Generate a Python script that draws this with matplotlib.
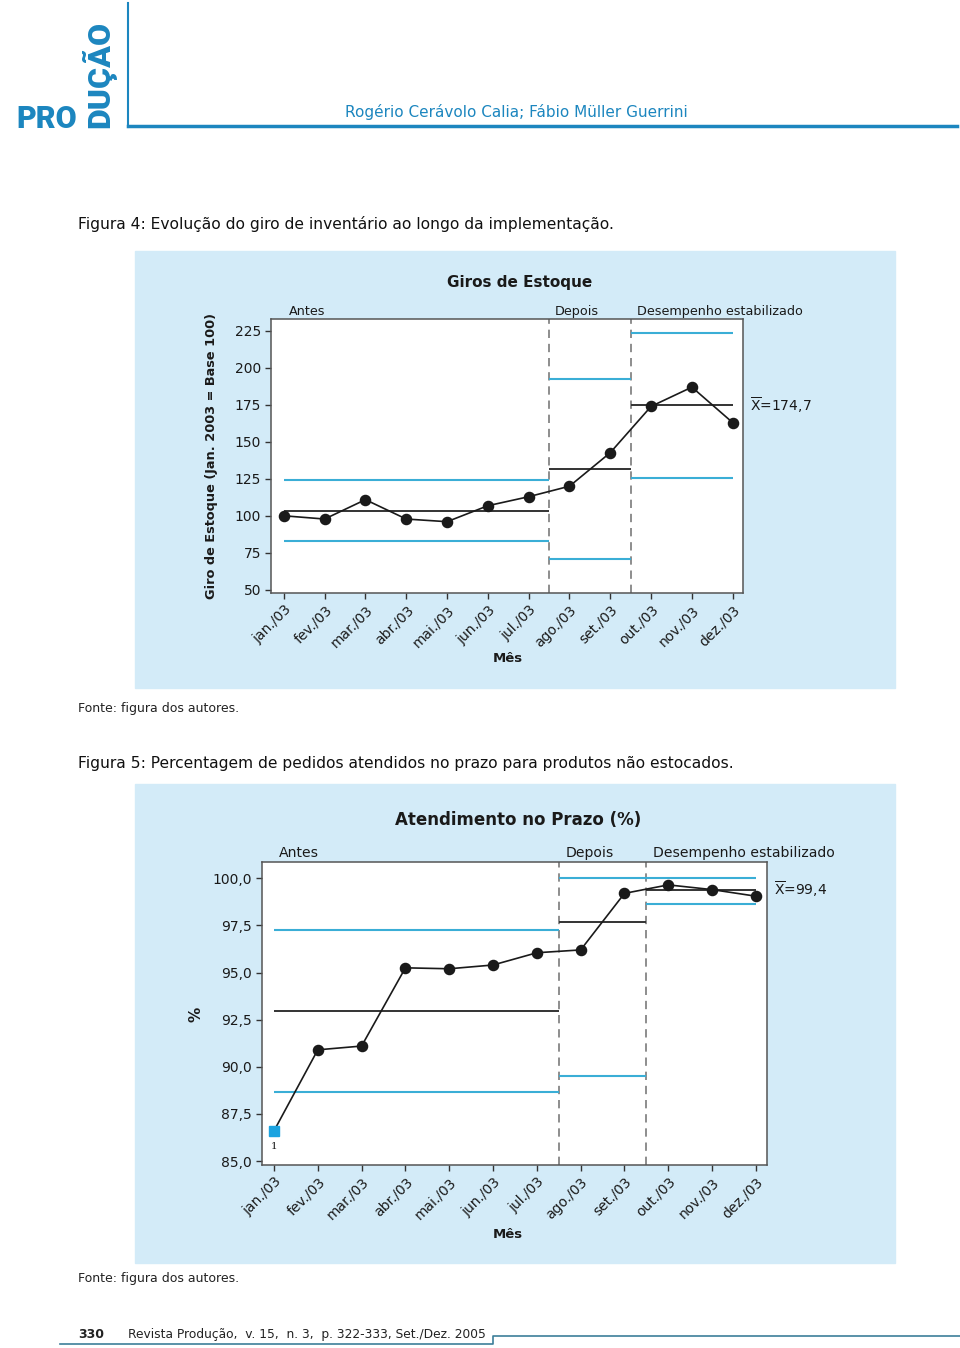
import matplotlib
matplotlib.use("Agg")
import matplotlib.pyplot as plt
from matplotlib.patches import Rectangle

plt.rcParams['font.family'] = ['DejaVu Sans']
plt.rcParams['mathtext.fontset'] = 'dejavusans'

# --- data ---
meses = ['jan./03', 'fev./03', 'mar./03', 'abr./03', 'mai./03', 'jun./03',
         'jul./03', 'ago./03', 'set./03', 'out./03', 'nov./03', 'dez./03']
etapas = ['Antes', 'Depois', 'Desempenho estabilizado']
etapa_inicio = [0, 7, 9]   # first month of each stage

# Figura 4 - giros de estoque (jan. 2003 = base 100)
giros = [100.0, 97.8, 110.9, 97.8, 96.0, 106.8, 112.9, 120.0, 142.7, 174.0, 187.0, 163.0]
giros_lsc = [124.4, 192.3, 223.9]
giros_media = [103.3, 131.4, 174.7]
giros_lic = [82.9, 70.8, 125.8]
giros_yticks = [50, 75, 100, 125, 150, 175, 200, 225]

# Figura 5 - atendimento no prazo (%)
prazo = [86.6, 90.9, 91.1, 95.25, 95.2, 95.4, 96.05, 96.2, 99.2, 99.65, 99.4, 99.05]
prazo_lsc = [97.27, 100.0, 100.0]
prazo_media = [92.97, 97.7, 99.4]
prazo_lic = [88.64, 89.52, 98.62]
prazo_fora = [0]   # points flagged by test 1
prazo_yticks = [85.0, 87.5, 90.0, 92.5, 95.0, 97.5, 100.0]

W, H = 960, 1348
AZUL = '#1c86bf'
FUNDO = '#d3ebf8'
CIANO = '#3aaed6'
ESCURO = '#1a1a1a'


def rect(l, t, r, b):
    return [l / W, 1 - b / H, (r - l) / W, (b - t) / H]


fig = plt.figure(figsize=(W / 100, H / 100), dpi=100)

# page layer in pixel coordinates
page = fig.add_axes([0, 0, 1, 1])
page.set_xlim(0, W)
page.set_ylim(H, 0)
page.axis('off')

# header
page.text(16, 128, 'PRO', family='Roboto', fontweight='heavy', fontsize=22,
          color=AZUL, ha='left', va='baseline')
page.text(116, 128, 'DUÇÃO', family='Roboto', fontweight='heavy', fontsize=23,
          color=AZUL, rotation=90, ha='right', va='bottom')
page.plot([128, 128], [3, 127], color=AZUL, lw=1.5)
page.plot([128, 957], [126, 126], color=AZUL, lw=2.5)
page.text(688, 117, 'Rogério Cerávolo Calia; Fábio Müller Guerrini', fontsize=11,
          color=AZUL, ha='right', va='baseline')

# captions
page.text(78, 229, 'Figura 4: Evolução do giro de inventário ao longo da implementação.',
          fontsize=11.2, color='#111111', ha='left', va='baseline')
page.text(78, 712, 'Fonte: figura dos autores.', fontsize=9, color='#222222',
          ha='left', va='baseline')
page.text(78, 768, 'Figura 5: Percentagem de pedidos atendidos no prazo para produtos não estocados.',
          fontsize=11.2, color='#111111', ha='left', va='baseline')
page.text(78, 1282, 'Fonte: figura dos autores.', fontsize=9, color='#222222',
          ha='left', va='baseline')

# footer
page.text(78, 1338, '330', fontsize=9, fontweight='bold', color='#222222', va='baseline')
page.text(128, 1338, 'Revista Produção,  v. 15,  n. 3,  p. 322-333, Set./Dez. 2005',
          fontsize=8.8, color='#222222', va='baseline')
page.plot([60, 493, 493, 960], [1344, 1344, 1336, 1336], color='#3d7f9a', lw=1.2)

# chart panels
page.add_patch(Rectangle((135, 251), 760, 437, color=FUNDO, zorder=0))
page.add_patch(Rectangle((135, 784), 760, 479, color=FUNDO, zorder=0))


def carta(ax, valores, lsc, media, lic, fmt, yticks, rotulo_media, fora=(), fs_etapa=9.2):
    n = len(valores)
    ini = [0] + [i - 0.5 for i in etapa_inicio[1:]]
    fim = ini[1:] + [n - 1]
    for k in range(len(etapas)):
        ax.hlines([lsc[k], lic[k]], ini[k], fim[k], color=CIANO, lw=1.5, zorder=2)
        ax.hlines(media[k], ini[k], fim[k], color='#333333', lw=1.4, zorder=2)
        ax.text(ini[k] + (0.12 if k == 0 else 0.15), 1.004, etapas[k],
                transform=ax.get_xaxis_transform(), fontsize=fs_etapa,
                color=ESCURO, ha='left', va='bottom')
    for b in ini[1:]:
        ax.axvline(b, color='#7a7a7a', lw=1.2, ls=(0, (5, 3.5)), zorder=1)
    x = list(range(n))
    ax.plot(x, valores, '-', color=ESCURO, lw=1.2, zorder=3)
    xs = [i for i in x if i not in fora]
    ax.plot(xs, [valores[i] for i in xs], 'o', color=ESCURO, ms=7.3, zorder=4)
    for i in fora:
        ax.plot(i, valores[i], 's', color='#1ba3e0', ms=6.5, zorder=4)
    ax.text(n - 1 + 0.42, media[-1], rotulo_media, fontsize=10, color=ESCURO,
            ha='left', va='center', clip_on=False)
    ax.set_xticks(x)
    ax.set_xticklabels(meses, rotation=45, ha='right', rotation_mode='anchor')
    ax.set_yticks(yticks)
    ax.set_yticklabels([fmt(v) for v in yticks])
    ax.tick_params(direction='out', length=4, width=1, color='#333333',
                   labelsize=10, labelcolor=ESCURO, pad=3)
    for s in ax.spines.values():
        s.set_color('#555555')
        s.set_linewidth(1.1)
    return ini


# Figura 4
ax1 = fig.add_axes(rect(271, 319, 742.5, 593))
ax1.set_xlim(-0.314, 11.24)
ax1.set_ylim(47.77, 233.1)
carta(ax1, giros, giros_lsc, giros_media, giros_lic, lambda v: '%d' % v,
      giros_yticks, r'$\overline{\mathrm{X}}$=174,7')
page.text(520, 283, 'Giros de Estoque', fontsize=11, fontweight='bold',
          color=ESCURO, ha='center', va='center')
page.text(212, 456, 'Giro de Estoque (Jan. 2003 = Base 100)', fontsize=9.3,
          fontweight='bold', color=ESCURO, rotation=90, ha='center', va='center')
page.text(508, 659, 'Mês', fontsize=9.5, fontweight='bold', color=ESCURO,
          ha='center', va='center')

# Figura 5
ax2 = fig.add_axes(rect(261.7, 861.7, 767.3, 1165))
ax2.set_xlim(-0.28, 11.26)
ax2.set_ylim(84.79, 100.88)
carta(ax2, prazo, prazo_lsc, prazo_media, prazo_lic,
      lambda v: ('%.1f' % v).replace('.', ','), prazo_yticks,
      r'$\overline{\mathrm{X}}$=99,4', fora=prazo_fora, fs_etapa=10.1)
for i in prazo_fora:
    ax2.annotate('1', (i, prazo[i]), xytext=(0, -8), textcoords='offset points',
                 family='DejaVu Serif', fontsize=7.5, color=ESCURO,
                 ha='center', va='top')
page.text(518, 820, 'Atendimento no Prazo (%)', fontsize=12, fontweight='bold',
          color=ESCURO, ha='center', va='center')
page.text(196, 1014, '%', fontsize=11, fontweight='bold', color=ESCURO,
          rotation=90, ha='center', va='center')
page.text(508, 1235, 'Mês', fontsize=9.5, fontweight='bold', color=ESCURO,
          ha='center', va='center')

fig.savefig('out.png', dpi=100)
